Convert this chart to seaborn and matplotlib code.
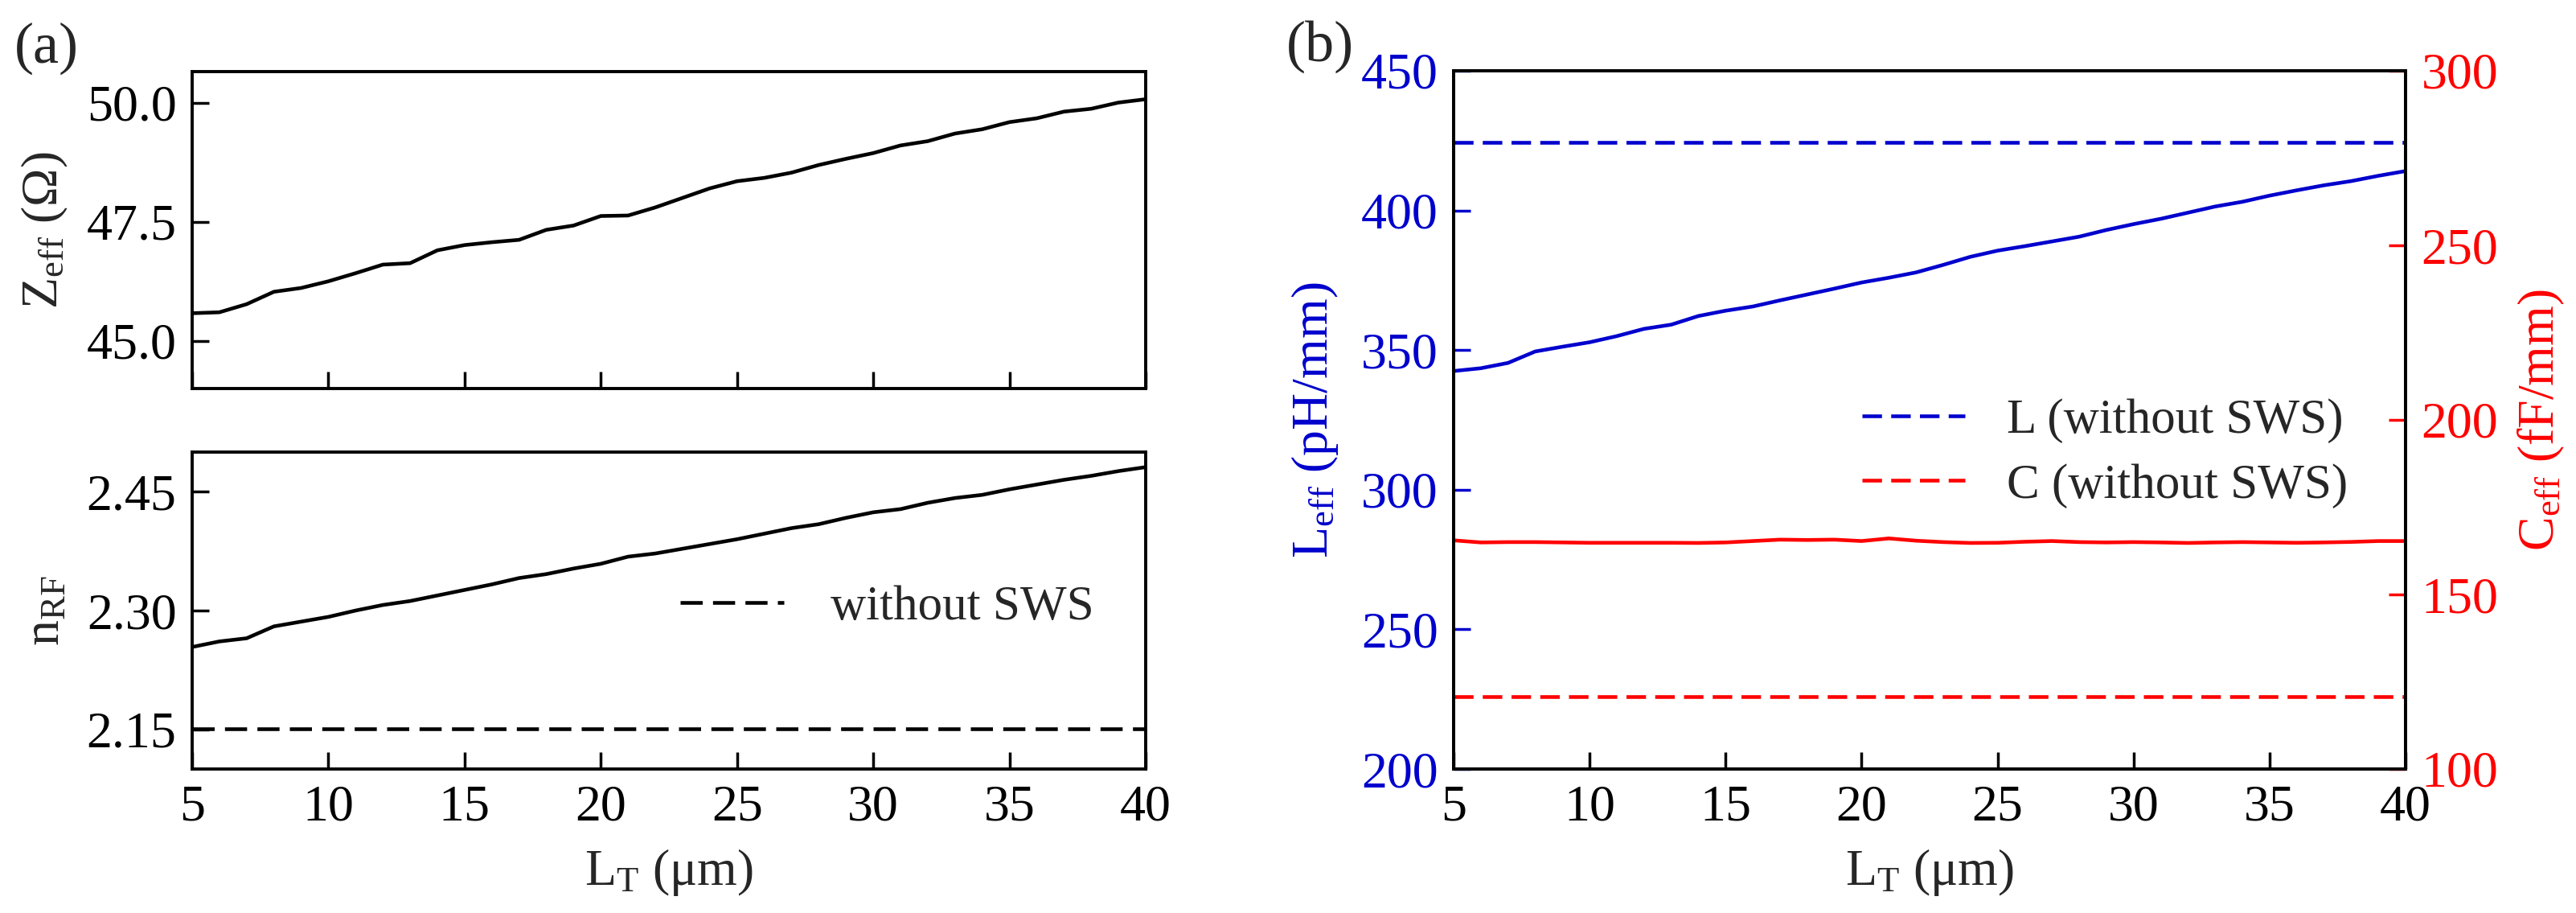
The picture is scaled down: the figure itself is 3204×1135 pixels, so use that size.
import numpy as np
import pandas as pd
import matplotlib
matplotlib.use("Agg")
import matplotlib.pyplot as plt
import seaborn as sns

# ---------------- data ----------------
L_T = list(range(5, 41))  # µm

Z_eff = [45.58, 45.60, 45.77, 46.03, 46.11, 46.25, 46.42, 46.60, 46.63, 46.90,
         47.01, 47.07, 47.12, 47.33, 47.42, 47.62, 47.63, 47.80, 48.00, 48.20,
         48.35, 48.42, 48.53, 48.69, 48.82, 48.94, 49.10, 49.19, 49.35, 49.44,
         49.59, 49.67, 49.81, 49.87, 50.00, 50.07]

n_RF = [2.254, 2.261, 2.265, 2.280, 2.286, 2.292, 2.300, 2.307, 2.312, 2.319,
        2.326, 2.333, 2.341, 2.346, 2.353, 2.359, 2.368, 2.372, 2.378, 2.384,
        2.390, 2.397, 2.404, 2.409, 2.417, 2.424, 2.428, 2.436, 2.442, 2.446,
        2.453, 2.459, 2.465, 2.470, 2.476, 2.481]
n_RF_without = 2.151

L_eff = [342.5, 343.5, 345.4, 349.5, 351.2, 352.8, 355.0, 357.6, 359.1, 362.2,
         364.1, 365.6, 367.8, 369.9, 372.0, 374.2, 375.9, 377.8, 380.5, 383.4,
         385.6, 387.2, 388.9, 390.6, 393.0, 395.1, 397.0, 399.2, 401.4, 403.1,
         405.3, 407.2, 409.0, 410.5, 412.4, 414.1]
L_without = 424.5

C_eff = [165.5, 164.9, 165.0, 165.0, 164.9, 164.8, 164.8, 164.8, 164.8, 164.75,
         164.9, 165.3, 165.7, 165.6, 165.7, 165.3, 166.05, 165.4, 165.0, 164.75,
         164.8, 165.1, 165.3, 165.0, 164.9, 165.0, 164.9, 164.75, 164.9, 165.0,
         164.9, 164.8, 164.9, 165.05, 165.3, 165.3]
C_without = 120.8

z_ticks = [45.0, 47.5, 50.0]
n_ticks = [2.15, 2.30, 2.45]
x_ticks = [5, 10, 15, 20, 25, 30, 35, 40]
l_ticks = [200, 250, 300, 350, 400, 450]
c_ticks = [100, 150, 200, 250, 300]

df = pd.DataFrame({"L_T": L_T, "Z": Z_eff, "n": n_RF, "L": L_eff, "C": C_eff})

# ---------------- style ----------------
sns.set_style("ticks")
plt.rcParams["font.family"] = ["Liberation Serif", "DejaVu Serif"]
plt.rcParams["mathtext.fontset"] = "custom"
plt.rcParams["mathtext.rm"] = "Liberation Serif"
plt.rcParams["mathtext.it"] = "Liberation Serif:italic"
plt.rcParams["axes.linewidth"] = 2.8
plt.rcParams["axes.edgecolor"] = "black"

BLUE = "#0000CD"
RED = "#FF0000"
TICK_FS = 46
LAB_FS = 46
LEG_FS = 44
LW = 3.3

W, H = 3205, 1135
fig = plt.figure(figsize=(W / 100, H / 100), dpi=100)

def frac_rect(x0, y0, x1, y1):
    return [x0 / W, 1 - y1 / H, (x1 - x0) / W, (y1 - y0) / H]

ax1 = fig.add_axes(frac_rect(239, 89, 1425, 483))
ax2 = fig.add_axes(frac_rect(239, 562, 1425, 956))
ax3 = fig.add_axes(frac_rect(1808, 88, 2992, 956))
ax4 = ax3.twinx()

def style_ticks(ax, color="black", labelcolor="black", **kw):
    ax.tick_params(direction="in", length=15, width=2.5, labelsize=TICK_FS,
                   color=color, labelcolor=labelcolor, pad=14, **kw)

# ---- panel (a) top ----
sns.lineplot(data=df, x="L_T", y="Z", ax=ax1, color="black", linewidth=LW, legend=False)
ax1.set_xlim(5, 40)
ax1.set_ylim(44.0, 50.65)
ax1.set_xticks(x_ticks)
ax1.set_xticklabels([])
ax1.set_yticks(z_ticks)
ax1.set_yticklabels([f"{v:.1f}" for v in z_ticks])
style_ticks(ax1)
ax1.set_xlabel("")
ax1.set_ylabel(r"Z$_{\mathrm{eff}}$ (Ω)", fontsize=LAB_FS)
ax1.yaxis.set_label_coords(-0.128, 0.5)

# ---- panel (a) bottom ----
sns.lineplot(data=df, x="L_T", y="n", ax=ax2, color="black", linewidth=LW, legend=False)
ax2.axhline(n_RF_without, color="black", linewidth=LW, ls=(0, (6, 2.8)), label="without SWS")
ax2.set_xlim(5, 40)
ax2.set_ylim(2.10, 2.50)
ax2.set_xticks(x_ticks)
ax2.set_yticks(n_ticks)
ax2.set_yticklabels([f"{v:.2f}" for v in n_ticks])
style_ticks(ax2)
ax2.set_xlabel(r"L$_{\mathrm{T}}$ (μm)", fontsize=LAB_FS)
ax2.xaxis.set_label_coords(0.5, -0.245)
ax2.set_ylabel(r"n$_{\mathrm{RF}}$", fontsize=LAB_FS)
ax2.yaxis.set_label_coords(-0.128, 0.5)
ax2.legend(loc="center left", bbox_to_anchor=(0.512, 0.51), frameon=False,
           fontsize=LEG_FS, handlelength=2.1, handletextpad=0.95,
           borderpad=0, borderaxespad=0)

# ---- panel (b) ----
sns.lineplot(data=df, x="L_T", y="L", ax=ax3, color=BLUE, linewidth=LW, legend=False)
hL = ax3.axhline(L_without, color=BLUE, linewidth=LW, ls=(0, (5.3, 2.5)), label="L (without SWS)")
sns.lineplot(data=df, x="L_T", y="C", ax=ax4, color=RED, linewidth=LW, legend=False)
hC = ax4.axhline(C_without, color=RED, linewidth=LW, ls=(0, (5.3, 2.5)), label="C (without SWS)")

ax3.set_xlim(5, 40)
ax3.set_ylim(200, 450)
ax3.set_xticks(x_ticks)
ax3.set_yticks(l_ticks)
style_ticks(ax3, axis="x")
ax3.tick_params(axis="y", direction="in", length=15, width=2.5, labelsize=TICK_FS,
                color=BLUE, labelcolor=BLUE, pad=14)
ax3.set_xlabel(r"L$_{\mathrm{T}}$ (μm)", fontsize=LAB_FS)
ax3.xaxis.set_label_coords(0.5, -0.112)
ax3.set_ylabel(r"L$_{\mathrm{eff}}$ (pH/mm)", fontsize=LAB_FS, color=BLUE)
ax3.yaxis.set_label_coords(-0.119, 0.5)

ax4.set_ylim(100, 300)
ax4.set_yticks(c_ticks)
ax4.tick_params(axis="y", direction="in", length=15, width=2.5, labelsize=TICK_FS,
                color=RED, labelcolor=RED, pad=14)
ax4.set_ylabel(r"C$_{\mathrm{eff}}$ (fF/mm)", fontsize=LAB_FS, color=RED)
ax4.yaxis.set_label_coords(1.1166, 0.5)
for sp in ax4.spines.values():
    sp.set_linewidth(2.8)

ax3.legend(handles=[hL, hC], loc="center left", bbox_to_anchor=(0.429, 0.452),
           frameon=False, fontsize=LEG_FS, handlelength=2.1, handletextpad=0.85,
           labelspacing=0.4, borderpad=0, borderaxespad=0)

fig.text(18 / W, 1 - 60 / H, "(a)", fontsize=52, ha="left", va="center")
fig.text(1600 / W, 1 - 58 / H, "(b)", fontsize=52, ha="left", va="center")

fig.savefig("out.png", dpi=100, facecolor="white")
